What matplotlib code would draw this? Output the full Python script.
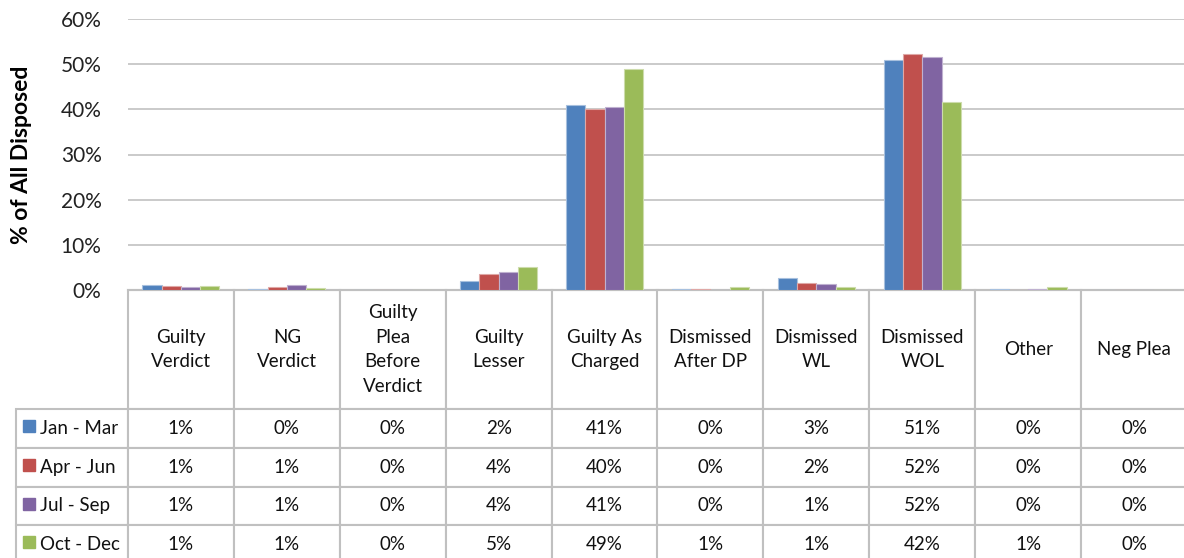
import numpy as np
import matplotlib.pyplot as plt
from matplotlib.patches import Rectangle

plt.rcParams['font.family'] = ['Lato', 'DejaVu Sans']

categories = ['Guilty\nVerdict', 'NG\nVerdict', 'Guilty\nPlea\nBefore\nVerdict',
              'Guilty\nLesser', 'Guilty As\nCharged', 'Dismissed\nAfter DP',
              'Dismissed\nWL', 'Dismissed\nWOL', 'Other', 'Neg Plea']
quarters = ['Jan - Mar', 'Apr - Jun', 'Jul - Sep', 'Oct - Dec']

# percent of all disposed
jan_mar = [1.2, 0.3, 0.0, 2.1, 41.0, 0.3, 2.7, 51.0, 0.3, 0.0]
apr_jun = [0.9, 0.7, 0.0, 3.6, 40.0, 0.3, 1.55, 52.2, 0.05, 0.0]
jul_sep = [0.75, 1.0, 0.0, 3.9, 40.55, 0.05, 1.4, 51.6, 0.3, 0.0]
oct_dec = [0.9, 0.55, 0.0, 5.0, 49.0, 0.6, 0.6, 41.6, 0.6, 0.0]
series = [jan_mar, apr_jun, jul_sep, oct_dec]
colors = ['#4F81BD', '#C0504D', '#8064A2', '#9BBB59']
edges = ['#a7c0de', '#dfa8a6', '#bfb1d0', '#cddcac']

W, H = 1184, 558
fig = plt.figure(figsize=(W / 100, H / 100), dpi=100)
ax = fig.add_axes([128 / W, (H - 290) / H, 1059 / W, 271 / H])

n = len(categories)
x = np.arange(n)
bw = 0.182
for i, vals in enumerate(series):
    ax.bar(x + (i - 1.5) * bw, vals, width=bw, color=colors[i],
           edgecolor=edges[i], linewidth=0.8, zorder=3)

ax.set_xlim(-0.5, n - 0.5)
ax.set_ylim(0, 60)
ax.set_yticks(np.arange(0, 61, 10))
ax.set_yticklabels([f'{v}%' for v in range(0, 61, 10)], fontsize=15, color='#222222')
ax.tick_params(axis='y', length=0, pad=19)
ax.set_xticks([])
ax.grid(axis='y', color='#c6c6c6', linewidth=1.3, zorder=0)
for s in ['left', 'right', 'top']:
    ax.spines[s].set_visible(False)
ax.spines['bottom'].set_color('#c0c0c0')
ax.spines['bottom'].set_linewidth(1.5)

ax.set_ylabel('% of All Disposed', fontsize=16.5, fontweight='bold')
ax.yaxis.set_label_coords(-0.091, 0.5)

# data table under the chart
cell_text = [[q] + [f'{v:.0f}%' for v in vals] for q, vals in zip(quarters, series)]
tbl = ax.table(cellText=cell_text, colLabels=[''] + categories, cellLoc='center',
               bbox=[-112 / 1059, -274 / 271, 1171 / 1059, 274 / 271])
tbl.auto_set_font_size(False)
tbl.set_fontsize(13.5)
for (r, c), cell in tbl.get_celld().items():
    cell.set_edgecolor('#c0c0c0')
    cell.set_linewidth(1.5)
    cell.set_width(112 if c == 0 else 105.9)
    cell.set_height(119 if r == 0 else 38.7)
    cell.get_text().set_color('#111111')
    if r == 0:
        cell.get_text().set_linespacing(1.55)
    if c == 0 and r > 0:
        cell._loc = 'left'
        cell.get_text().set_horizontalalignment('left')
        cell.PAD = 0.21
tbl[(0, 0)].visible_edges = 'open'

# legend keys in the label column
for i in range(len(quarters)):
    yc = -(119 + 38.7 * (i + 0.5) - 2) / 271
    ax.add_patch(Rectangle((-105 / 1059, yc - 6 / 271), 12 / 1059, 12 / 271,
                           transform=ax.transAxes, color=colors[i], clip_on=False))

fig.savefig('out.png', dpi=100)
